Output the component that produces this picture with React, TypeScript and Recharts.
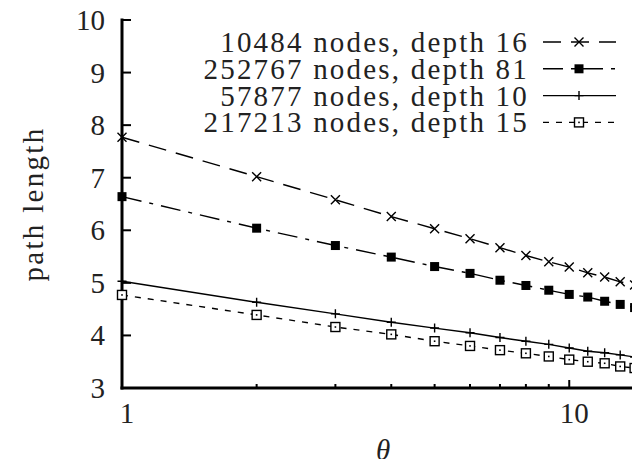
import React from 'react';
import { LineChart, Line, XAxis, YAxis, Legend, Label } from 'recharts';

const thetas = [1, 2, 3, 4, 5, 6, 7, 8, 9, 10, 11, 12, 13, 14];
const nodes10484 = [7.77, 7.02, 6.58, 6.26, 6.03, 5.84, 5.67, 5.52, 5.4, 5.3, 5.19, 5.11, 5.02, 4.96];
const nodes252767 = [6.64, 6.04, 5.71, 5.49, 5.31, 5.18, 5.05, 4.95, 4.86, 4.78, 4.73, 4.65, 4.59, 4.53];
const nodes57877 = [5.03, 4.63, 4.41, 4.25, 4.14, 4.05, 3.96, 3.89, 3.83, 3.76, 3.7, 3.67, 3.63, 3.59];
const nodes217213 = [4.77, 4.39, 4.16, 4.02, 3.89, 3.8, 3.72, 3.66, 3.6, 3.54, 3.5, 3.47, 3.41, 3.38];
const seriesNames = [
  '10484 nodes, depth 16',
  '252767 nodes, depth 81',
  '57877 nodes, depth 10',
  '217213 nodes, depth 15',
];
const xTicks = [1, 2, 3, 4, 5, 6, 7, 8, 9, 10];
const xLabelTicks = [1, 10];
const yTicks = [3, 4, 5, 6, 7, 8, 9, 10];
const xDomain = [1, 15];
const yDomain = [3, 10];

const data = thetas.map((t, i) => ({
  theta: t,
  a: nodes10484[i],
  b: nodes252767[i],
  c: nodes57877[i],
  d: nodes217213[i],
}));

const FONT = "'Liberation Serif', 'DejaVu Serif', serif";
const TXT = '#222';
const LW = 1.4;
const textStyle = { fontFamily: FONT, fontSize: 29 };

const styles = [
  { key: 'a', dash: '18 10', marker: 'cross' },
  { key: 'b', dash: '20 8 4 8', marker: 'fsquare' },
  { key: 'c', dash: undefined as string | undefined, marker: 'plus' },
  { key: 'd', dash: '6 7', marker: 'osquare' },
];

function Marker({ kind, cx, cy }: { kind: string; cx: number; cy: number }) {
  const s = 4.5;
  if (cx == null || cy == null || isNaN(cx) || isNaN(cy)) return null;
  switch (kind) {
    case 'cross':
      return (
        <path
          d={`M${cx - s},${cy - s}L${cx + s},${cy + s}M${cx - s},${cy + s}L${cx + s},${cy - s}`}
          stroke="#000"
          strokeWidth={LW}
          fill="none"
        />
      );
    case 'fsquare':
      return <rect x={cx - s} y={cy - s} width={2 * s} height={2 * s} fill="#000" />;
    case 'plus':
      return (
        <path
          d={`M${cx - s},${cy}L${cx + s},${cy}M${cx},${cy - s}L${cx},${cy + s}`}
          stroke="#000"
          strokeWidth={LW}
          fill="none"
        />
      );
    default:
      return (
        <g>
          <rect x={cx - s} y={cy - s} width={2 * s} height={2 * s} fill="#fff" stroke="#000" strokeWidth={LW} />
          <rect x={cx - 0.8} y={cy - 0.8} width={1.6} height={1.6} fill="#000" />
        </g>
      );
  }
}

const BottomTick = (props: any) => {
  const { x, y, payload } = props;
  const major = xLabelTicks.includes(payload.value);
  return (
    <g>
      <line x1={x} x2={x} y1={y} y2={y - (major ? 8 : 4)} stroke="#000" strokeWidth={2} />
      {major && (
        <text x={x + 5} y={y + 35} textAnchor="middle" style={textStyle} fill={TXT}>
          {payload.value}
        </text>
      )}
    </g>
  );
};

const TopTick = (props: any) => {
  const { x, y, payload } = props;
  const major = xLabelTicks.includes(payload.value);
  return <line x1={x} x2={x} y1={y} y2={y + (major ? 8 : 4)} stroke="#000" strokeWidth={2} />;
};

const LeftTick = (props: any) => {
  const { x, y, payload } = props;
  return (
    <g>
      <line x1={x} x2={x + 9} y1={y} y2={y} stroke="#000" strokeWidth={2} />
      <text x={x - 17} y={y + 10} textAnchor="end" style={textStyle} fill={TXT}>
        {payload.value}
      </text>
    </g>
  );
};

const RightTick = (props: any) => {
  const { x, y } = props;
  return <line x1={x} x2={x - 9} y1={y} y2={y} stroke="#000" strokeWidth={2} />;
};

const renderLegend = () => (
  <svg width={450} height={115} style={{ display: 'block', overflow: 'visible' }}>
    {seriesNames.map((name, i) => {
      const cy = 17 + i * 26.8;
      return (
        <g key={name}>
          <text
            x={339}
            y={cy + 10}
            textAnchor="end"
            style={{ ...textStyle, letterSpacing: '2.2px' }}
            fill={TXT}
          >
            {name}
          </text>
          <line x1={353} x2={426} y1={cy} y2={cy} stroke="#000" strokeWidth={LW} strokeDasharray={styles[i].dash} />
          <Marker kind={styles[i].marker} cx={389} cy={cy} />
        </g>
      );
    })}
  </svg>
);

const axisLine = { stroke: '#000', strokeWidth: 3, strokeLinecap: 'square' as const };

export default function App() {
  return (
    <div style={{ margin: -8, width: 640, height: 467, overflow: 'hidden', background: '#fff', position: 'relative' }}>
      <LineChart width={700} height={467} data={data} margin={{ top: 20, right: 52, bottom: 0, left: 0 }}>
        <XAxis
          dataKey="theta"
          type="number"
          scale="log"
          domain={xDomain}
          ticks={xTicks}
          interval={0}
          tick={BottomTick}
          tickSize={0}
          tickMargin={0}
          tickLine={false}
          height={79}
          axisLine={axisLine}
        >
          <Label
            content={(p: any) => {
              const vb = p.viewBox || { x: 122, y: 388, width: 526, height: 79 };
              return (
                <text
                  x={vb.x + vb.width / 2 - 2}
                  y={vb.y + 72}
                  textAnchor="middle"
                  style={{ ...textStyle, fontStyle: 'italic' }}
                  fill={TXT}
                >
                  θ
                </text>
              );
            }}
          />
        </XAxis>
        <XAxis
          xAxisId="top"
          orientation="top"
          type="number"
          scale="log"
          domain={xDomain}
          ticks={xTicks}
          interval={0}
          tick={TopTick}
          tickSize={0}
          tickMargin={0}
          tickLine={false}
          height={0}
          axisLine={axisLine}
        />
        <YAxis
          type="number"
          domain={yDomain}
          ticks={yTicks}
          interval={0}
          tick={LeftTick}
          tickSize={0}
          tickMargin={0}
          tickLine={false}
          width={122}
          axisLine={axisLine}
        >
          <Label
            content={(p: any) => {
              const vb = p.viewBox || { x: 0, y: 20, width: 122, height: 368 };
              const cx = vb.x + 43;
              const cy = vb.y + vb.height / 2;
              return (
                <text
                  x={cx}
                  y={cy}
                  transform={`rotate(-90, ${cx}, ${cy})`}
                  textAnchor="middle"
                  style={{ ...textStyle, letterSpacing: '2.3px' }}
                  fill={TXT}
                >
                  path length
                </text>
              );
            }}
          />
        </YAxis>
        <YAxis
          yAxisId="right"
          orientation="right"
          type="number"
          domain={yDomain}
          ticks={yTicks}
          interval={0}
          tick={RightTick}
          tickSize={0}
          tickMargin={0}
          tickLine={false}
          width={0}
          axisLine={axisLine}
        />
        <Legend
          layout="vertical"
          align="center"
          verticalAlign="middle"
          width={450}
          height={115}
          wrapperStyle={{ left: 190, top: 25, width: 450, height: 115 }}
          content={renderLegend}
        />
        {styles.map((s, i) => (
          <Line
            key={s.key}
            dataKey={s.key}
            name={seriesNames[i]}
            type="linear"
            stroke="#000"
            strokeWidth={LW}
            strokeDasharray={s.dash}
            isAnimationActive={false}
            activeDot={false}
            dot={(p: any) => <Marker key={`${s.key}-${p.index}`} kind={s.marker} cx={p.cx} cy={p.cy} />}
          />
        ))}
      </LineChart>
    </div>
  );
}
